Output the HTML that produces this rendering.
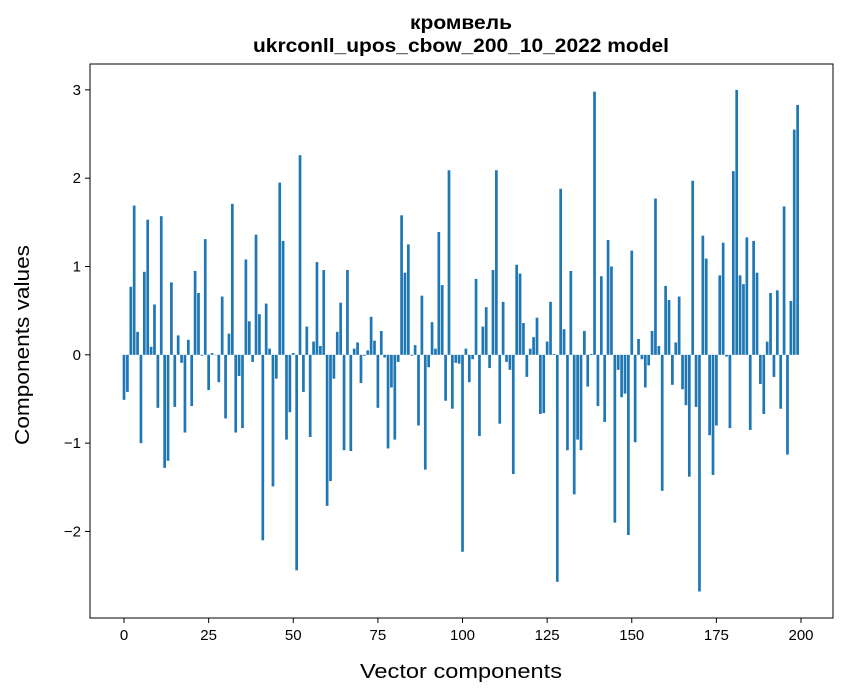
<!DOCTYPE html>
<html><head><meta charset="utf-8"><style>
body{margin:0;background:#fff;}
svg{display:block;font-family:"Liberation Sans","DejaVu Sans",sans-serif;}
</style></head><body>
<svg id="chart" width="847" height="696" viewBox="0 0 847 696" xmlns="http://www.w3.org/2000/svg">
<text x="461" y="29" text-anchor="middle" font-size="19" font-weight="bold" textLength="102" lengthAdjust="spacingAndGlyphs">кромвель</text>
<text x="461" y="52" text-anchor="middle" font-size="19" font-weight="bold" textLength="416" lengthAdjust="spacingAndGlyphs">ukrconll_upos_cbow_200_10_2022 model</text>
<g id="bars"></g>
<rect x="90" y="64" width="743" height="554" fill="none" stroke="#000" stroke-width="1"/>
<g id="axes"></g>
<text x="461" y="678" text-anchor="middle" font-size="20" textLength="202" lengthAdjust="spacingAndGlyphs">Vector components</text>
<text x="29" y="345" text-anchor="middle" font-size="20" textLength="200" lengthAdjust="spacingAndGlyphs" transform="rotate(-90 29 345)">Components values</text>
</svg>
<script>
const values = [-0.51,-0.42,0.77,1.69,0.26,-1.0,0.94,1.53,0.09,0.57,
-0.6,1.57,-1.28,-1.2,0.82,-0.59,0.22,-0.09,-0.88,0.17,
-0.58,0.95,0.7,-0.01,1.31,-0.4,0.02,0.0,-0.31,0.66,
-0.72,0.24,1.71,-0.88,-0.24,-0.83,1.08,0.38,-0.08,1.36,
0.46,-2.1,0.58,0.07,-1.49,-0.27,1.95,1.29,-0.96,-0.65,
0.02,-2.44,2.26,-0.42,0.32,-0.93,0.15,1.05,0.1,0.96,
-1.71,-1.43,-0.27,0.26,0.59,-1.08,0.96,-1.09,0.07,0.14,
-0.32,-0.01,0.05,0.43,0.16,-0.6,0.27,-0.03,-1.06,-0.37,
-0.96,-0.08,1.58,0.93,1.25,-0.01,0.11,-0.8,0.67,-1.3,
-0.14,0.37,0.07,1.39,0.79,-0.52,2.09,-0.61,-0.09,-0.1,
-2.23,0.07,-0.31,-0.05,0.86,-0.92,0.32,0.54,-0.15,0.96,
2.09,-0.78,0.6,-0.08,-0.17,-1.35,1.02,0.92,0.36,-0.25,
0.07,0.2,0.42,-0.67,-0.66,0.15,0.6,0.01,-2.57,1.88,
0.29,-1.08,0.95,-1.58,-0.96,-1.08,0.27,-0.36,0.01,2.98,
-0.58,0.89,-0.76,1.3,1.0,-1.9,-0.17,-0.48,-0.44,-2.04,
1.18,-0.99,0.18,-0.05,-0.37,-0.12,0.27,1.77,0.1,-1.54,
0.78,0.62,-0.34,0.14,0.66,-0.39,-0.57,-1.38,1.97,-0.59,
-2.68,1.35,1.09,-0.91,-1.36,-0.8,0.9,1.27,-0.02,-0.83,
2.08,3.0,0.9,0.8,1.33,-0.85,1.29,0.93,-0.33,-0.67,
0.15,0.7,-0.25,0.73,-0.61,1.68,-1.13,0.61,2.55,2.83];
const xTicks = [0,25,50,75,100,125,150,175,200];
const yTicks = [-2,-1,0,1,2,3];
const yTickLabels = ["\u22122","\u22121","0","1","2","3"];

const NS="http://www.w3.org/2000/svg";
const X0=90,X1=833,Y0=64,Y1=618;
const xmin=-10.05,xmax=209.45,ymin=-2.98,ymax=3.293;
function sx(v){return X0+(v-xmin)/(xmax-xmin)*(X1-X0);}
function sy(v){return Y1-(v-ymin)/(ymax-ymin)*(Y1-Y0);}
const bars=document.getElementById('bars');
values.forEach((v,i)=>{
  const r=document.createElementNS(NS,'rect');
  
  
  const a=sy(Math.max(v,0)),b=sy(Math.min(v,0));
  r.setAttribute('x',sx(i-0.4));
  r.setAttribute('width',sx(i+0.4)-sx(i-0.4));
  r.setAttribute('y',a);
  r.setAttribute('height',Math.max(b-a,0.3));
  r.setAttribute('fill','#1f77b4');
  bars.appendChild(r);
});
const axes=document.getElementById('axes');
xTicks.forEach(t=>{
  const x=sx(t);
  const l=document.createElementNS(NS,'line');
  
  
  l.setAttribute('x1',x);l.setAttribute('x2',x);l.setAttribute('y1',Y1);l.setAttribute('y2',Y1+5);
  l.setAttribute('stroke','#000');
  axes.appendChild(l);
  const tx=document.createElementNS(NS,'text');
  
  
  tx.setAttribute('x',x);tx.setAttribute('y',Y1+22);
  tx.setAttribute('text-anchor','middle');tx.setAttribute('font-size','15');
  tx.textContent=t;
  axes.appendChild(tx);
});
yTicks.forEach((t,k)=>{
  const y=sy(t);
  const l=document.createElementNS(NS,'line');
  
  
  l.setAttribute('x1',X0-5);l.setAttribute('x2',X0);l.setAttribute('y1',y);l.setAttribute('y2',y);
  l.setAttribute('stroke','#000');
  axes.appendChild(l);
  const tx=document.createElementNS(NS,'text');
  
  
  tx.setAttribute('x',X0-9);tx.setAttribute('y',y+5);
  tx.setAttribute('text-anchor','end');tx.setAttribute('font-size','15');
  tx.textContent=yTickLabels[k];
  axes.appendChild(tx);
});
</script>
</body></html>
